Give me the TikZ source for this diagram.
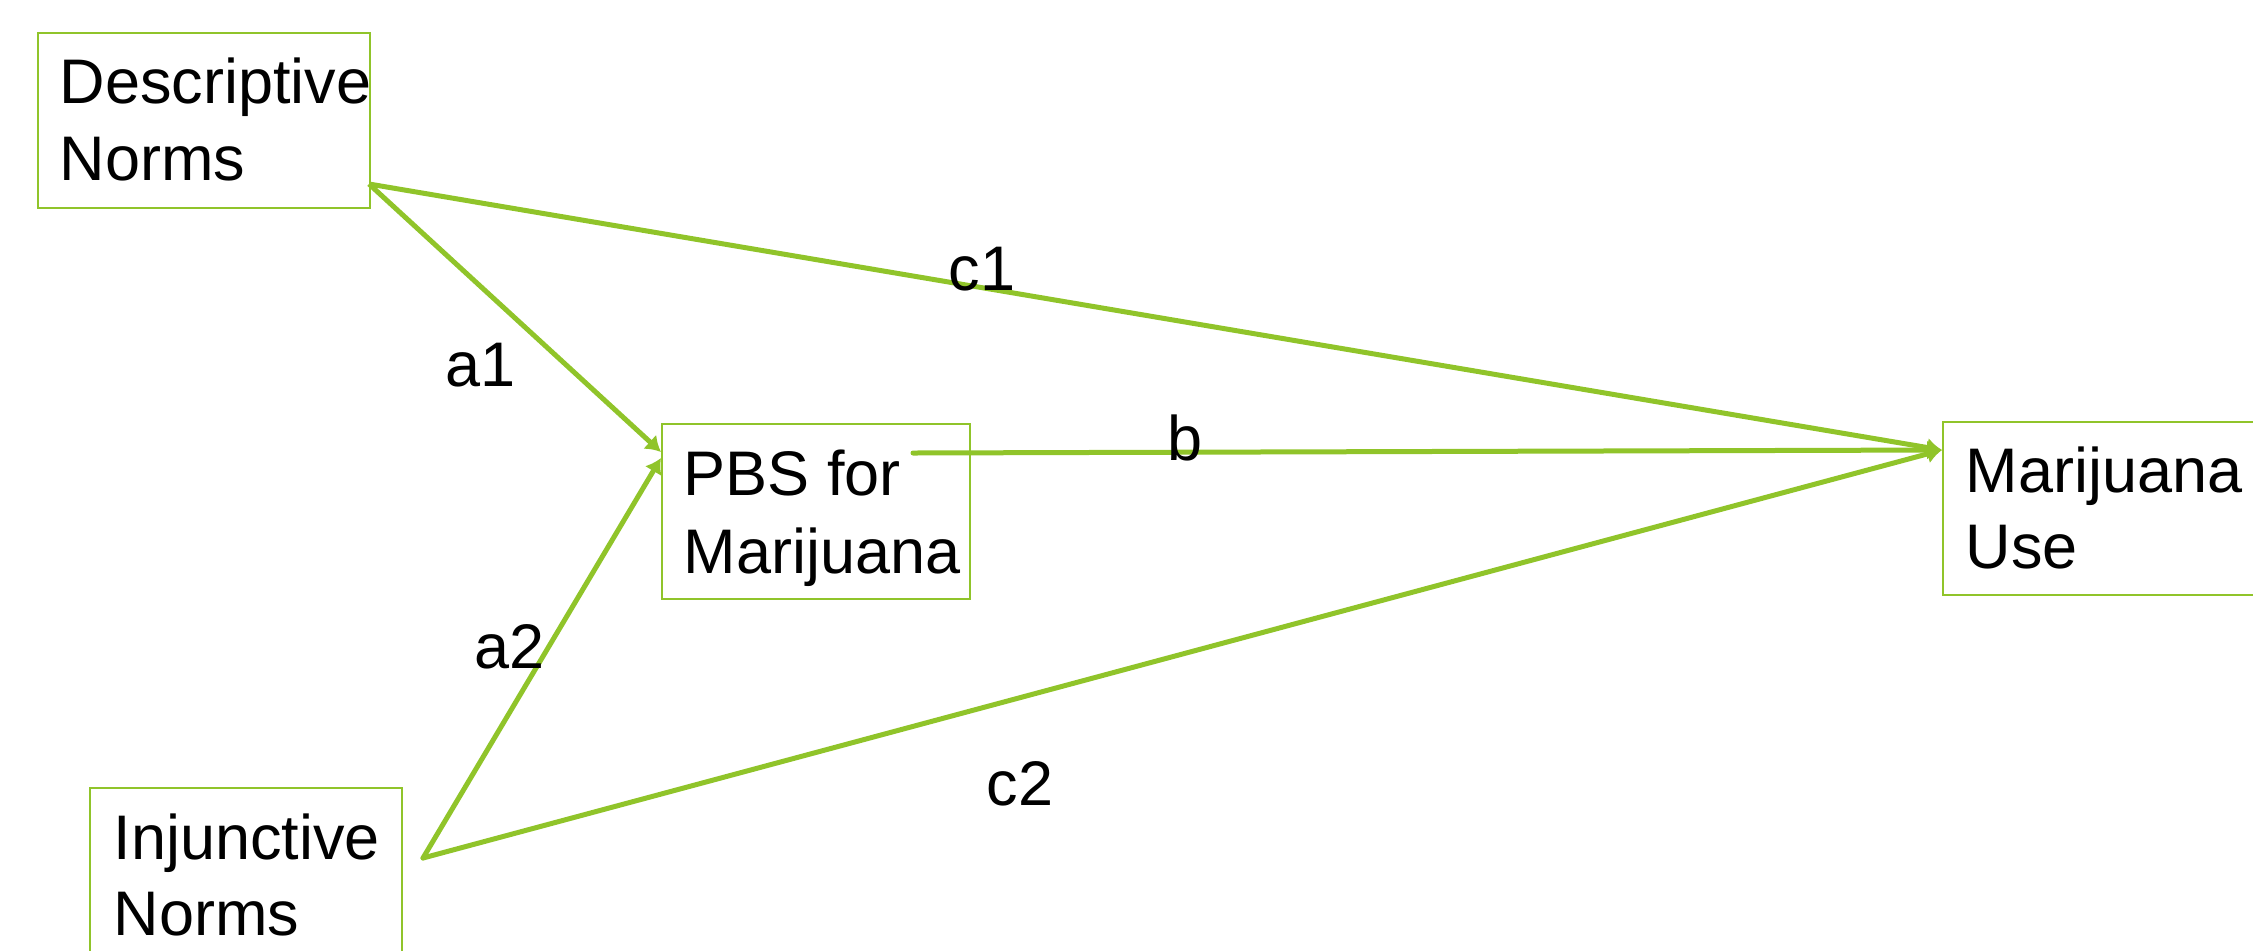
\documentclass[tikz,border=0pt]{standalone}
\usepackage{fontspec}
\setmainfont{Liberation Sans}
\usetikzlibrary{arrows.meta}
\definecolor{lime}{RGB}{144,196,42}
\begin{document}
\begin{tikzpicture}[x=0.3pt,y=-0.3pt,
  box/.style={draw=lime,line width=0.65pt,inner sep=0pt,anchor=north west},
  txt/.style={anchor=base west,inner sep=0pt,font=\fontsize{18.9}{23}\selectfont},
  conn/.style={draw=lime,line width=1.5pt,-{Latex[length=4.5pt,width=5.8pt]}},
  lbl/.style={anchor=base west,inner sep=0pt,font=\fontsize{18.9}{23}\selectfont}]
\useasboundingbox (0,0) rectangle (2253,950);
\clip (0,0) rectangle (2253,950);
% boxes
\node[box,minimum width=332*0.3pt,minimum height=175*0.3pt] (desc) at (37,32) {};
\node[box,minimum width=308*0.3pt,minimum height=175*0.3pt] (pbs) at (661,423) {};
\node[box,minimum width=340*0.3pt,minimum height=173*0.3pt] (use) at (1942,421) {};
\node[box,minimum width=312*0.3pt,minimum height=200*0.3pt] (inj) at (89,787) {};
% texts
\node[txt] (descT1) at (59,103) {Descriptive};
\node[txt] (descT2) at (59,180) {Norms};
\node[txt] (pbsT1) at (683,495) {PBS for};
\node[txt] (pbsT2) at (683,573) {Marijuana};
\node[txt] (useT1) at (1965,492) {Marijuana};
\node[txt] (useT2) at (1965,568) {Use};
\node[txt] (injT1) at (113,859) {Injunctive};
\node[txt] (injT2) at (113,935) {Norms};
% connector ends
\coordinate (descOut) at (369,184);
\coordinate (injOut) at (423,858);
\coordinate (pbsOut) at (913,453);
\coordinate (pbsIn1) at (661,452);
\coordinate (pbsIn2) at (661,458);
\coordinate (useIn) at (1942,450);
% connectors
\draw[conn] (descOut) -- (useIn);
\draw[conn] (descOut) -- (pbsIn1);
\draw[conn,line cap=round] (pbsOut) -- (useIn);
\draw[conn,line cap=round] (injOut) -- (useIn);
\draw[conn,line cap=round] (injOut) -- (pbsIn2);
% labels
\node[lbl] (la1) at (445,386) {a1};
\node[lbl] (lc1) at (948,290) {c1};
\node[lbl] (lb) at (1167,460) {b};
\node[lbl] (la2) at (474,668) {a2};
\node[lbl] (lc2) at (986,805) {c2};
\end{tikzpicture}
\end{document}
